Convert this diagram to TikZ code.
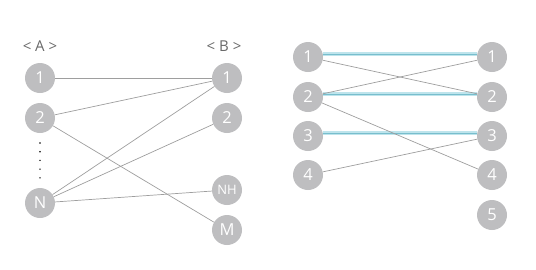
\documentclass[tikz,border=0pt]{standalone}
\usepackage{fontspec}
\setmainfont{Open Sans}
\begin{document}
\begin{tikzpicture}[x=1pt,y=-1pt,
  nd/.style={circle,fill=ndgray,minimum size=30pt,inner sep=0pt,text=white,font=\fontsize{16.5}{16.5}\selectfont},
  ndsmall/.style={nd,font=\fontsize{13}{13}\selectfont},
  ln/.style={draw=lngray,line width=0.7pt},
  hl/.style={draw=hlcyan,line width=3.8pt},
  hlc/.style={draw=hlcore,line width=0.8pt},
  hdr/.style={text=hdrgray,font=\fontsize{15}{15}\selectfont}]
\definecolor{ndgray}{RGB}{190,190,192}
\definecolor{lngray}{RGB}{158,158,158}
\definecolor{hlcyan}{RGB}{190,228,236}
\definecolor{hlcore}{RGB}{120,190,205}
\definecolor{hdrgray}{RGB}{105,105,105}
\useasboundingbox (0,0) rectangle (536,269);
% left panel
\node[hdr] (ha) at (40,46) {< A >};
\node[hdr] (hb) at (224,46) {< B >};
\node[nd] (a1) at (40,78) {1};
\node[nd] (a2) at (40,118) {2};
\node[nd] (an) at (40,203) {N};
\node[nd] (b1) at (227,78) {1};
\node[nd] (b2) at (227,118) {2};
\node[ndsmall] (bnh) at (227,190) {NH};
\node[nd] (bm) at (227,230) {M};
\foreach \i in {0,...,4} \fill (40,143+\i*8.7) circle (0.8pt);
\draw[ln] (a1) -- (b1);
\draw[ln] (a2) -- (b1);
\draw[ln] (a2) -- (bm);
\draw[ln] (an) -- (b1);
\draw[ln] (an) -- (b2);
\draw[ln] (an) -- (bnh);
% right panel
\node[nd] (l1) at (308,57) {1};
\node[nd] (l2) at (308,97) {2};
\node[nd] (l3) at (308,136) {3};
\node[nd] (l4) at (308,175) {4};
\node[nd] (r1) at (492,57) {1};
\node[nd] (r2) at (492,97) {2};
\node[nd] (r3) at (492,136) {3};
\node[nd] (r4) at (492,175) {4};
\node[nd] (r5) at (492,215) {5};
\foreach \a/\b in {l1/r1,l2/r2,l3/r3}{
  \draw[hl] (\a.10) -- (\b.170);
  \draw[hlc] (\a.10) -- (\b.170);
}
\draw[ln] (l1) -- (r2);
\draw[ln] (l2) -- (r1);
\draw[ln] (l2) -- (r4);
\draw[ln] (l4) -- (r3);
\end{tikzpicture}
\end{document}
